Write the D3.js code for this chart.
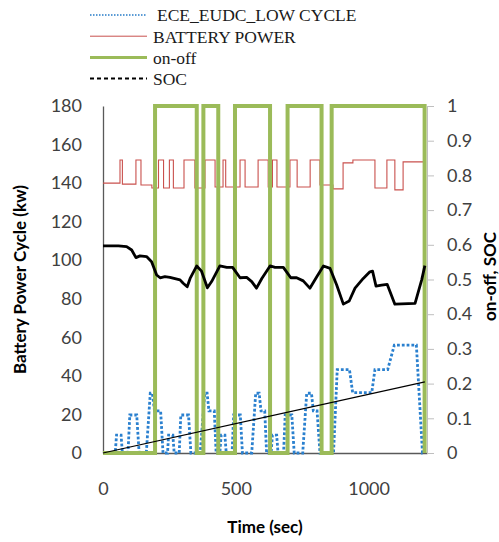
<!DOCTYPE html>
<html>
<head>
<meta charset="utf-8">
<script src="https://cdn.jsdelivr.net/npm/d3@7"></script>
<style>
    html, body { margin: 0; background: #fff; overflow: hidden; }
    svg { display: block; }
    .tick text { font-family: Lato, "Open Sans", sans-serif; font-size: 18px; fill: #404040; }
    .axis-title { font-family: Lato, "Open Sans", sans-serif; font-size: 17px; font-weight: bold; fill: #000; }
    .legend text { font-family: "Liberation Serif", "DejaVu Serif", serif; font-size: 17.5px; fill: #1a1a1a; }
</style>
</head>
<body>
<svg id="chart" width="499" height="542"></svg>
<script>
// tick values
const timeTicks = [0, 500, 1000];
const powerTicks = [0, 20, 40, 60, 80, 100, 120, 140, 160, 180];
const socTicks = [0, 0.1, 0.2, 0.3, 0.4, 0.5, 0.6, 0.7, 0.8, 0.9, 1];

// ECE_EUDC_LOW cycle, [time s, value] (left axis)
const speedCycle = [
    [0, 0], [46, 0], [51, 9.3], [68, 9.3], [73, 0],
    [94, 0], [101, 19.7], [127, 19.7], [136, 0],
    [163, 0], [178, 31], [186, 31], [194, 21.8], [217, 21.8], [226, 0],
    [243, 0], [247, 9.3], [263, 9.3], [268, 0],
    [287, 0], [293, 19.7], [322, 19.7], [331, 0],
    [366, 0], [383, 31], [392, 31], [399, 21.8], [419, 21.8], [426, 0],
    [440, 0], [445, 9.3], [459, 9.3], [464, 0],
    [486, 0], [492, 19.7], [517, 19.7], [525, 0],
    [560, 0], [575, 31], [588, 31], [595, 21.8], [609, 21.8], [616, 0],
    [633, 0], [638, 9.3], [654, 9.3], [659, 0],
    [680, 0], [686, 19.7], [711, 19.7], [720, 0],
    [752, 0], [767, 31], [785, 31], [792, 21.8], [806, 21.8], [817, 0],
    [868, 0], [882, 43.3], [928, 43.3], [940, 31.3], [1012, 31.3], [1024, 43.3],
    [1072, 43.3], [1097, 56], [1180, 56], [1203, 0], [1210, 0]
];

// battery power (kw), step values starting at each time
const batteryPower = [
    [0, 140], [64, 152], [73, 139.5], [124, 152], [143, 139], [184, 137.5],
    [209, 152], [228, 137.5], [250, 152], [265, 137.5], [305, 152], [346, 137.5],
    [384, 152], [422, 138], [452, 152], [462, 138], [516, 152], [535, 138],
    [584, 152], [622, 138], [638, 152], [655, 138], [704, 152], [731, 138],
    [780, 152], [817, 139], [866, 137], [904, 150.5], [941, 152], [1024, 137.5],
    [1069, 152], [1099, 136.5], [1130, 151], [1208, 152]
];

// engine on-off, step values (right axis)
const onOff = [
    [0, 0], [196, 1], [353, 0], [378, 1], [434, 0], [497, 1],
    [629, 0], [695, 1], [823, 0], [861, 1], [1211, 0]
];

// state of charge (right axis)
const soc = [
    [0, 0.597], [58, 0.597], [89, 0.595], [108, 0.585], [124, 0.563], [139, 0.568],
    [164, 0.566], [183, 0.551], [202, 0.513], [215, 0.505], [233, 0.508], [252, 0.506],
    [290, 0.499], [302, 0.489], [317, 0.479], [328, 0.503], [353, 0.539], [371, 0.524],
    [393, 0.476], [409, 0.494], [440, 0.539], [466, 0.535], [488, 0.535], [516, 0.505],
    [541, 0.506], [560, 0.494], [578, 0.475], [598, 0.503], [629, 0.539], [648, 0.535],
    [679, 0.535], [707, 0.505], [729, 0.505], [754, 0.496], [779, 0.475], [805, 0.508],
    [830, 0.539], [855, 0.532], [880, 0.484], [905, 0.429], [927, 0.438], [949, 0.475],
    [980, 0.503], [1005, 0.522], [1015, 0.524], [1028, 0.481], [1049, 0.484], [1070, 0.486],
    [1099, 0.429], [1175, 0.431], [1200, 0.499], [1212, 0.540]
];

// thin straight black line
const trendLine = [[0, 0], [1212, 0.205]];

const svg = d3.select("#chart");
const margin = { top: 106, right: 72, bottom: 89, left: 103 };
const innerWidth = +svg.attr("width") - margin.left - margin.right;
const innerHeight = +svg.attr("height") - margin.top - margin.bottom;

const x = d3.scaleLinear().domain([0, 1220]).range([0, innerWidth]);
const y = d3.scaleLinear().domain([0, 180]).range([innerHeight, 0]);
const y2 = d3.scaleLinear().domain([0, 1]).range([innerHeight, 0]);

const g = svg.append("g").attr("transform", `translate(${margin.left},${margin.top})`);

// axes
const xAxis = g.append("g")
    .attr("transform", `translate(0,${innerHeight})`)
    .call(d3.axisBottom(x).tickValues(timeTicks).tickSize(0).tickPadding(29).tickFormat(d3.format("d")));
xAxis.select(".domain").attr("stroke", "#595959").attr("stroke-width", 1.3);

const yAxis = g.append("g")
    .call(d3.axisLeft(y).tickValues(powerTicks).tickSize(0).tickPadding(21));
yAxis.select(".domain").attr("stroke", "#595959").attr("stroke-width", 1.3);

const y2Axis = g.append("g")
    .attr("transform", `translate(${innerWidth},0)`)
    .call(d3.axisRight(y2).tickValues(socTicks).tickSize(7).tickSizeOuter(0).tickPadding(13)
        .tickFormat(d3.format("~g")));
y2Axis.select(".domain").attr("stroke", "#bfbfbf");
y2Axis.selectAll(".tick line").attr("stroke", "#bfbfbf");

// series
const lineLeft = d3.line().x(d => x(d[0])).y(d => y(d[1]));
const lineRight = d3.line().x(d => x(d[0])).y(d => y2(d[1]));

g.append("path").datum(speedCycle)
    .attr("fill", "none").attr("stroke", "#2a80cf").attr("stroke-width", 2.8)
    .attr("stroke-dasharray", "2.8,2")
    .attr("d", lineLeft);

g.append("path").datum(batteryPower)
    .attr("fill", "none").attr("stroke", "#c9504d").attr("stroke-width", 1.1)
    .attr("d", d3.line().x(d => x(d[0])).y(d => y(d[1])).curve(d3.curveStepAfter));

g.append("path").datum(onOff)
    .attr("fill", "none").attr("stroke", "#9bbb59").attr("stroke-width", 4)
    .attr("d", d3.line().x(d => x(d[0])).y(d => y2(d[1])).curve(d3.curveStepAfter));

g.append("path").datum(soc)
    .attr("fill", "none").attr("stroke", "#000").attr("stroke-width", 2.8)
    .attr("stroke-linejoin", "round")
    .attr("d", lineRight);

g.append("path").datum(trendLine)
    .attr("fill", "none").attr("stroke", "#000").attr("stroke-width", 1.2)
    .attr("d", lineRight);

// axis titles
svg.append("text").attr("class", "axis-title")
    .attr("transform", `translate(20,${margin.top + innerHeight / 2}) rotate(-90)`)
    .attr("text-anchor", "middle").attr("dy", "0.35em")
    .text("Battery Power Cycle (kw)");

svg.append("text").attr("class", "axis-title")
    .attr("transform", `translate(490,${margin.top + innerHeight / 2 - 3}) rotate(-90)`)
    .attr("text-anchor", "middle").attr("dy", "0.35em")
    .text("on-off, SOC");

svg.append("text").attr("class", "axis-title")
    .attr("x", margin.left + innerWidth / 2).attr("y", 527)
    .attr("text-anchor", "middle").attr("dy", "0.35em")
    .text("Time (sec)");

// legend
const legendItems = [
    { label: "ECE_EUDC_LOW CYCLE", color: "#5b9bd5", width: 2, dash: "1.5,1.5", dx: 4 },
    { label: "BATTERY POWER", color: "#c9504d", width: 1, dash: null, dx: 0 },
    { label: "on-off", color: "#9bbb59", width: 3, dash: null, dx: 0 },
    { label: "SOC", color: "#000", width: 2, dash: "4,3", dx: 0 }
];
const legend = svg.append("g").attr("class", "legend");
legendItems.forEach((item, i) => {
    const ly = 15 + i * 21.2;
    legend.append("line")
        .attr("x1", 90).attr("x2", 147).attr("y1", ly).attr("y2", ly)
        .attr("stroke", item.color).attr("stroke-width", item.width)
        .attr("stroke-dasharray", item.dash);
    legend.append("text")
        .attr("x", 153 + item.dx).attr("y", ly + 6.3)
        .text(item.label);
});
</script>
</body>
</html>
